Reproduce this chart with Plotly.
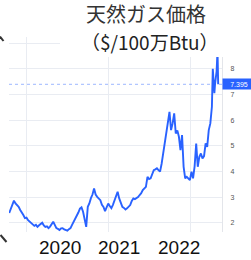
import plotly.graph_objects as go
import pandas as pd

# ---- data ----
weekly_start = "2019-10-18"
weekly_prices = [
    2.38, 2.55, 2.70, 2.86, 2.75, 2.68, 2.62, 2.50, 2.37, 2.30,
    2.18, 2.20, 2.10, 2.04, 1.98, 1.91, 1.88, 1.92, 1.84, 1.90,
    1.95, 2.00, 1.90, 1.84, 1.86, 1.79, 1.85, 1.95, 2.04, 1.92,
    1.79, 1.76, 1.72, 1.78, 1.79, 1.74, 1.70, 1.69, 1.75, 1.79,
    1.92, 2.04, 2.15, 2.23, 2.40, 2.55, 2.60, 2.43, 2.10, 1.84,
    2.62, 2.75, 2.96, 3.10, 3.34, 3.10, 3.01, 2.92, 2.88, 2.70,
    2.62, 2.45, 2.60, 2.75, 2.65, 2.57, 2.70, 2.88, 3.00, 3.21,
    2.95, 2.80, 2.62, 2.58, 2.52, 2.56, 2.62, 2.69, 2.85, 2.95,
    2.92, 2.95, 3.00, 3.08, 3.15, 3.27, 3.32, 3.40, 3.79, 3.70,
    3.73, 3.90, 4.05, 4.08, 4.12, 4.05, 3.99, 4.30, 4.70, 5.10,
    5.48, 5.74, 6.32, 5.61, 5.87, 6.26, 5.48, 5.60, 5.35, 4.83,
    5.42, 4.18, 3.73, 3.79, 3.70, 3.66, 3.99, 3.73, 4.20, 5.09,
    4.18, 4.57, 4.70, 4.51, 4.60, 5.09, 4.96, 5.61, 5.87, 6.52,
]
tail_dates = ["2022-04-12", "2022-04-15", "2022-04-19", "2022-04-22",
              "2022-04-26", "2022-04-29", "2022-05-03", "2022-05-06"]
tail_prices = [8.00, 7.30, 7.05, 7.40, 7.60, 7.90, 8.70, 7.395]
last_price = 7.395

year_labels = ["2020", "2021", "2022"]
title_line1 = "天然ガス価格"
title_line2 = "（$/100万Btu）"
y_ticks = [2, 3, 4, 5, 6, 7, 8, 9]

dates = list(pd.date_range(weekly_start, periods=len(weekly_prices), freq="7D")) + \
        list(pd.to_datetime(tail_dates))
prices = weekly_prices + tail_prices

# ---- layout helpers (pixel -> paper) ----
L, R, T, B = 9, 29, 0, 28
W, H = 251, 260
PW, PH = W - L - R, H - T - B
def px(x):
    return (x - L) / PW
def py(y):
    return 1 - (y - T) / PH

BLUE = "#2962FF"
GRID = "#e9ecf2"

fig = go.Figure()
fig.add_trace(go.Scatter(x=dates, y=prices, mode="lines",
                         line=dict(color=BLUE, width=1.9), hoverinfo="skip"))

fig.update_layout(
    width=W, height=H,
    margin=dict(l=L, r=R, t=T, b=B),
    paper_bgcolor="white", plot_bgcolor="white",
    showlegend=False,
    xaxis=dict(range=["2019-10-17", "2022-05-23"], showgrid=True, gridcolor=GRID,
               gridwidth=1, dtick="M12", tick0="2020-01-01",
               showticklabels=False, zeroline=False, showline=False),
    yaxis=dict(range=[1.64, 10.68], side="right", tickvals=y_ticks,
               showgrid=True, gridcolor=GRID, zeroline=False,
               showline=True, linecolor="#e3e5ea", linewidth=1,
               ticks="outside", ticklen=6, tickcolor="rgba(0,0,0,0)",
               tickfont=dict(size=7, color="#555", family="Liberation Sans")),
)

# dotted last-price line
fig.add_shape(type="line", xref="paper", yref="y", x0=0, x1=1,
              y0=last_price, y1=last_price,
              line=dict(color="rgba(41,98,255,0.45)", width=1, dash="dot"))

# white title backdrop (covers top of chart)
fig.add_shape(type="rect", xref="paper", yref="paper", layer="above",
              x0=px(-5), x1=px(260), y0=py(37), y1=py(-5),
              fillcolor="white", line=dict(width=0))
fig.add_shape(type="rect", xref="paper", yref="paper", layer="above",
              x0=px(60), x1=px(260), y0=py(57), y1=py(36),
              fillcolor="white", line=dict(width=0))

# small dark marks at the left edge
fig.add_shape(type="line", xref="paper", yref="paper", layer="above",
              x0=px(0), y0=py(36.5), x1=px(3.5), y1=py(41),
              line=dict(color="#333", width=2))
fig.add_shape(type="line", xref="paper", yref="paper", layer="above",
              x0=px(0.5), y0=py(235), x1=px(6.5), y1=py(242),
              line=dict(color="#333", width=2))

# title
fig.add_annotation(xref="paper", yref="paper", x=px(146), y=py(14),
                   xanchor="center", yanchor="middle",
                   text=title_line1, showarrow=False,
                   font=dict(size=20, color="#333",
                             family="Noto Sans CJK JP"))
fig.add_annotation(xref="paper", yref="paper", x=px(150), y=py(41),
                   xanchor="center", yanchor="middle",
                   text=title_line2, showarrow=False,
                   font=dict(size=19, color="#222",
                             family="Noto Sans CJK JP"))

# last price label
fig.add_annotation(xref="paper", yref="y", x=1, y=last_price,
                   xanchor="left", yanchor="middle",
                   text=f"{last_price:.3f}", showarrow=False,
                   bgcolor=BLUE, width=32, height=10, align="center",
                   font=dict(size=7, color="white", family="Liberation Sans"),
                   borderpad=0)

# year labels
for lab, cx in zip(year_labels, [60, 119, 179]):
    fig.add_annotation(xref="paper", yref="paper", x=px(cx), y=py(247),
                       xanchor="center", yanchor="middle",
                       text=lab, showarrow=False,
                       font=dict(size=19, color="#111",
                                 family="Liberation Sans"))

fig.write_html("out.html", config={"displayModeBar": False},
               post_script="document.body.style.margin='0';")
